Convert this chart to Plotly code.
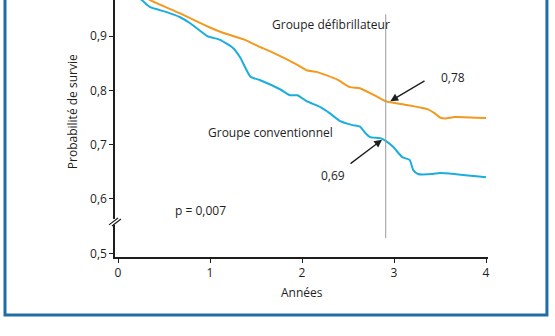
import plotly.graph_objects as go

# Kaplan-Meier survival estimates (years, probability)
years_defib = [0, 0.35, 0.67, 0.98, 1.14, 1.38, 1.54, 1.69, 1.95, 2.05, 2.16, 2.38,
               2.52, 2.63, 2.82, 2.91, 3.14, 3.37, 3.44, 3.50, 3.56, 3.66, 4.0]
surv_defib = [1.0, 0.966, 0.942, 0.917, 0.906, 0.893, 0.880, 0.869, 0.847, 0.837, 0.834, 0.820,
              0.806, 0.804, 0.788, 0.780, 0.773, 0.765, 0.758, 0.750, 0.748, 0.751, 0.749]

years_conv = [0, 0.26, 0.35, 0.53, 0.67, 0.78, 0.97, 1.11, 1.25, 1.33, 1.44, 1.54, 1.76,
              1.87, 1.95, 2.05, 2.20, 2.30, 2.41, 2.55, 2.63, 2.69, 2.74, 2.85, 2.91,
              2.99, 3.09, 3.17, 3.21, 3.26, 3.42, 3.50, 4.0]
surv_conv = [1.0, 0.966, 0.953, 0.944, 0.935, 0.924, 0.900, 0.893, 0.878, 0.860, 0.825, 0.819,
             0.802, 0.791, 0.791, 0.780, 0.769, 0.758, 0.744, 0.736, 0.733, 0.721, 0.714,
             0.712, 0.707, 0.696, 0.677, 0.672, 0.653, 0.646, 0.646, 0.648, 0.640]

y_ticks = [0.5, 0.6, 0.7, 0.8, 0.9]
y_tick_labels = ["0,5", "0,6", "0,7", "0,8", "0,9"]
x_ticks = [0, 1, 2, 3, 4]

marker_year = 2.91
defib_at_marker = 0.78
conv_at_marker = 0.69
p_value = "0,007"

FONT = "Open Sans"
FS = 12
TXT = "#1e1e1e"
ORANGE = "#F29A1F"
CYAN = "#1BADE0"
FRAME = "#1F6CA6"

fig = go.Figure()
fig.add_trace(go.Scatter(x=years_defib, y=surv_defib, mode="lines",
                         line=dict(color=ORANGE, width=2, shape="spline", smoothing=0.5),
                         hoverinfo="skip"))
fig.add_trace(go.Scatter(x=years_conv, y=surv_conv, mode="lines",
                         line=dict(color=CYAN, width=2, shape="spline", smoothing=0.5),
                         hoverinfo="skip"))

fig.update_layout(
    width=555, height=336,
    margin=dict(l=115, r=67, t=0, b=79),
    paper_bgcolor="white", plot_bgcolor="white",
    showlegend=False,
    font=dict(family=FONT, size=FS, color=TXT),
    xaxis=dict(range=[-0.0326, 4.0217], tickvals=x_ticks, ticks="outside", ticklen=4,
               tickcolor=TXT, showline=True, linecolor=TXT, linewidth=1.5,
               showgrid=False, zeroline=False, tickfont=dict(size=FS)),
    yaxis=dict(range=[0.4932, 0.9663], tickvals=y_ticks, ticktext=y_tick_labels,
               ticks="outside", ticklen=4, tickcolor=TXT, showline=True, linecolor=TXT,
               linewidth=1.5, showgrid=False, zeroline=False, tickfont=dict(size=FS)),
)

shapes = [
    # follow-up marker
    dict(type="line", xref="x", yref="y", x0=marker_year, x1=marker_year, y0=0.528, y1=0.94,
         line=dict(color="#9a9a9a", width=1)),
    # axis break
    dict(type="line", xref="paper", yref="paper", x0=0, x1=0, y0=0.125, y1=0.148,
         line=dict(color="white", width=4)),
    dict(type="line", xref="paper", yref="paper", x0=-0.016, x1=0.008, y0=0.125, y1=0.152,
         line=dict(color=TXT, width=1.2)),
    dict(type="line", xref="paper", yref="paper", x0=-0.008, x1=0.016, y0=0.121, y1=0.148,
         line=dict(color=TXT, width=1.2)),
    # outer frame
    dict(type="rect", xref="paper", yref="paper", x0=-0.2949, x1=1.158, y0=-0.2257, y1=1.06,
         line=dict(color=FRAME, width=3)),
]
fig.update_layout(shapes=shapes)

ann = [
    dict(text="Probabilité de survie", xref="paper", yref="paper", x=-0.115, y=0.564,
         textangle=-90, showarrow=False, xanchor="center", yanchor="middle"),
    dict(text="Années", xref="paper", yref="paper", x=0.5, y=-0.14, showarrow=False,
         xanchor="center", yanchor="middle"),
    dict(text="Groupe défibrillateur", xref="x", yref="y", x=1.652, y=0.922,
         showarrow=False, xanchor="left", yanchor="middle"),
    dict(text="Groupe conventionnel", xref="x", yref="y", x=0.957, y=0.7215,
         showarrow=False, xanchor="left", yanchor="middle"),
    dict(text="p = " + p_value, xref="x", yref="y", x=0.598, y=0.578,
         showarrow=False, xanchor="left", yanchor="middle"),
    dict(text=f"{defib_at_marker:.2f}".replace(".", ","), xref="x", yref="y", x=3.64, y=0.8245,
         showarrow=False, xanchor="center", yanchor="middle"),
    dict(text=f"{conv_at_marker:.2f}".replace(".", ","), xref="x", yref="y", x=2.337, y=0.644,
         showarrow=False, xanchor="center", yanchor="middle"),
    dict(text="", xref="x", yref="y", x=2.96, y=defib_at_marker, axref="x", ayref="y",
         ax=3.348, ay=0.819, showarrow=True, arrowhead=2, arrowsize=1.2, arrowwidth=1.3,
         arrowcolor=TXT),
    dict(text="", xref="x", yref="y", x=2.87, y=0.709, axref="x", ayref="y",
         ax=2.511, ay=0.663, showarrow=True, arrowhead=2, arrowsize=1.2, arrowwidth=1.3,
         arrowcolor=TXT),
]
fig.update_layout(annotations=ann)

fig.write_html("out.html")
